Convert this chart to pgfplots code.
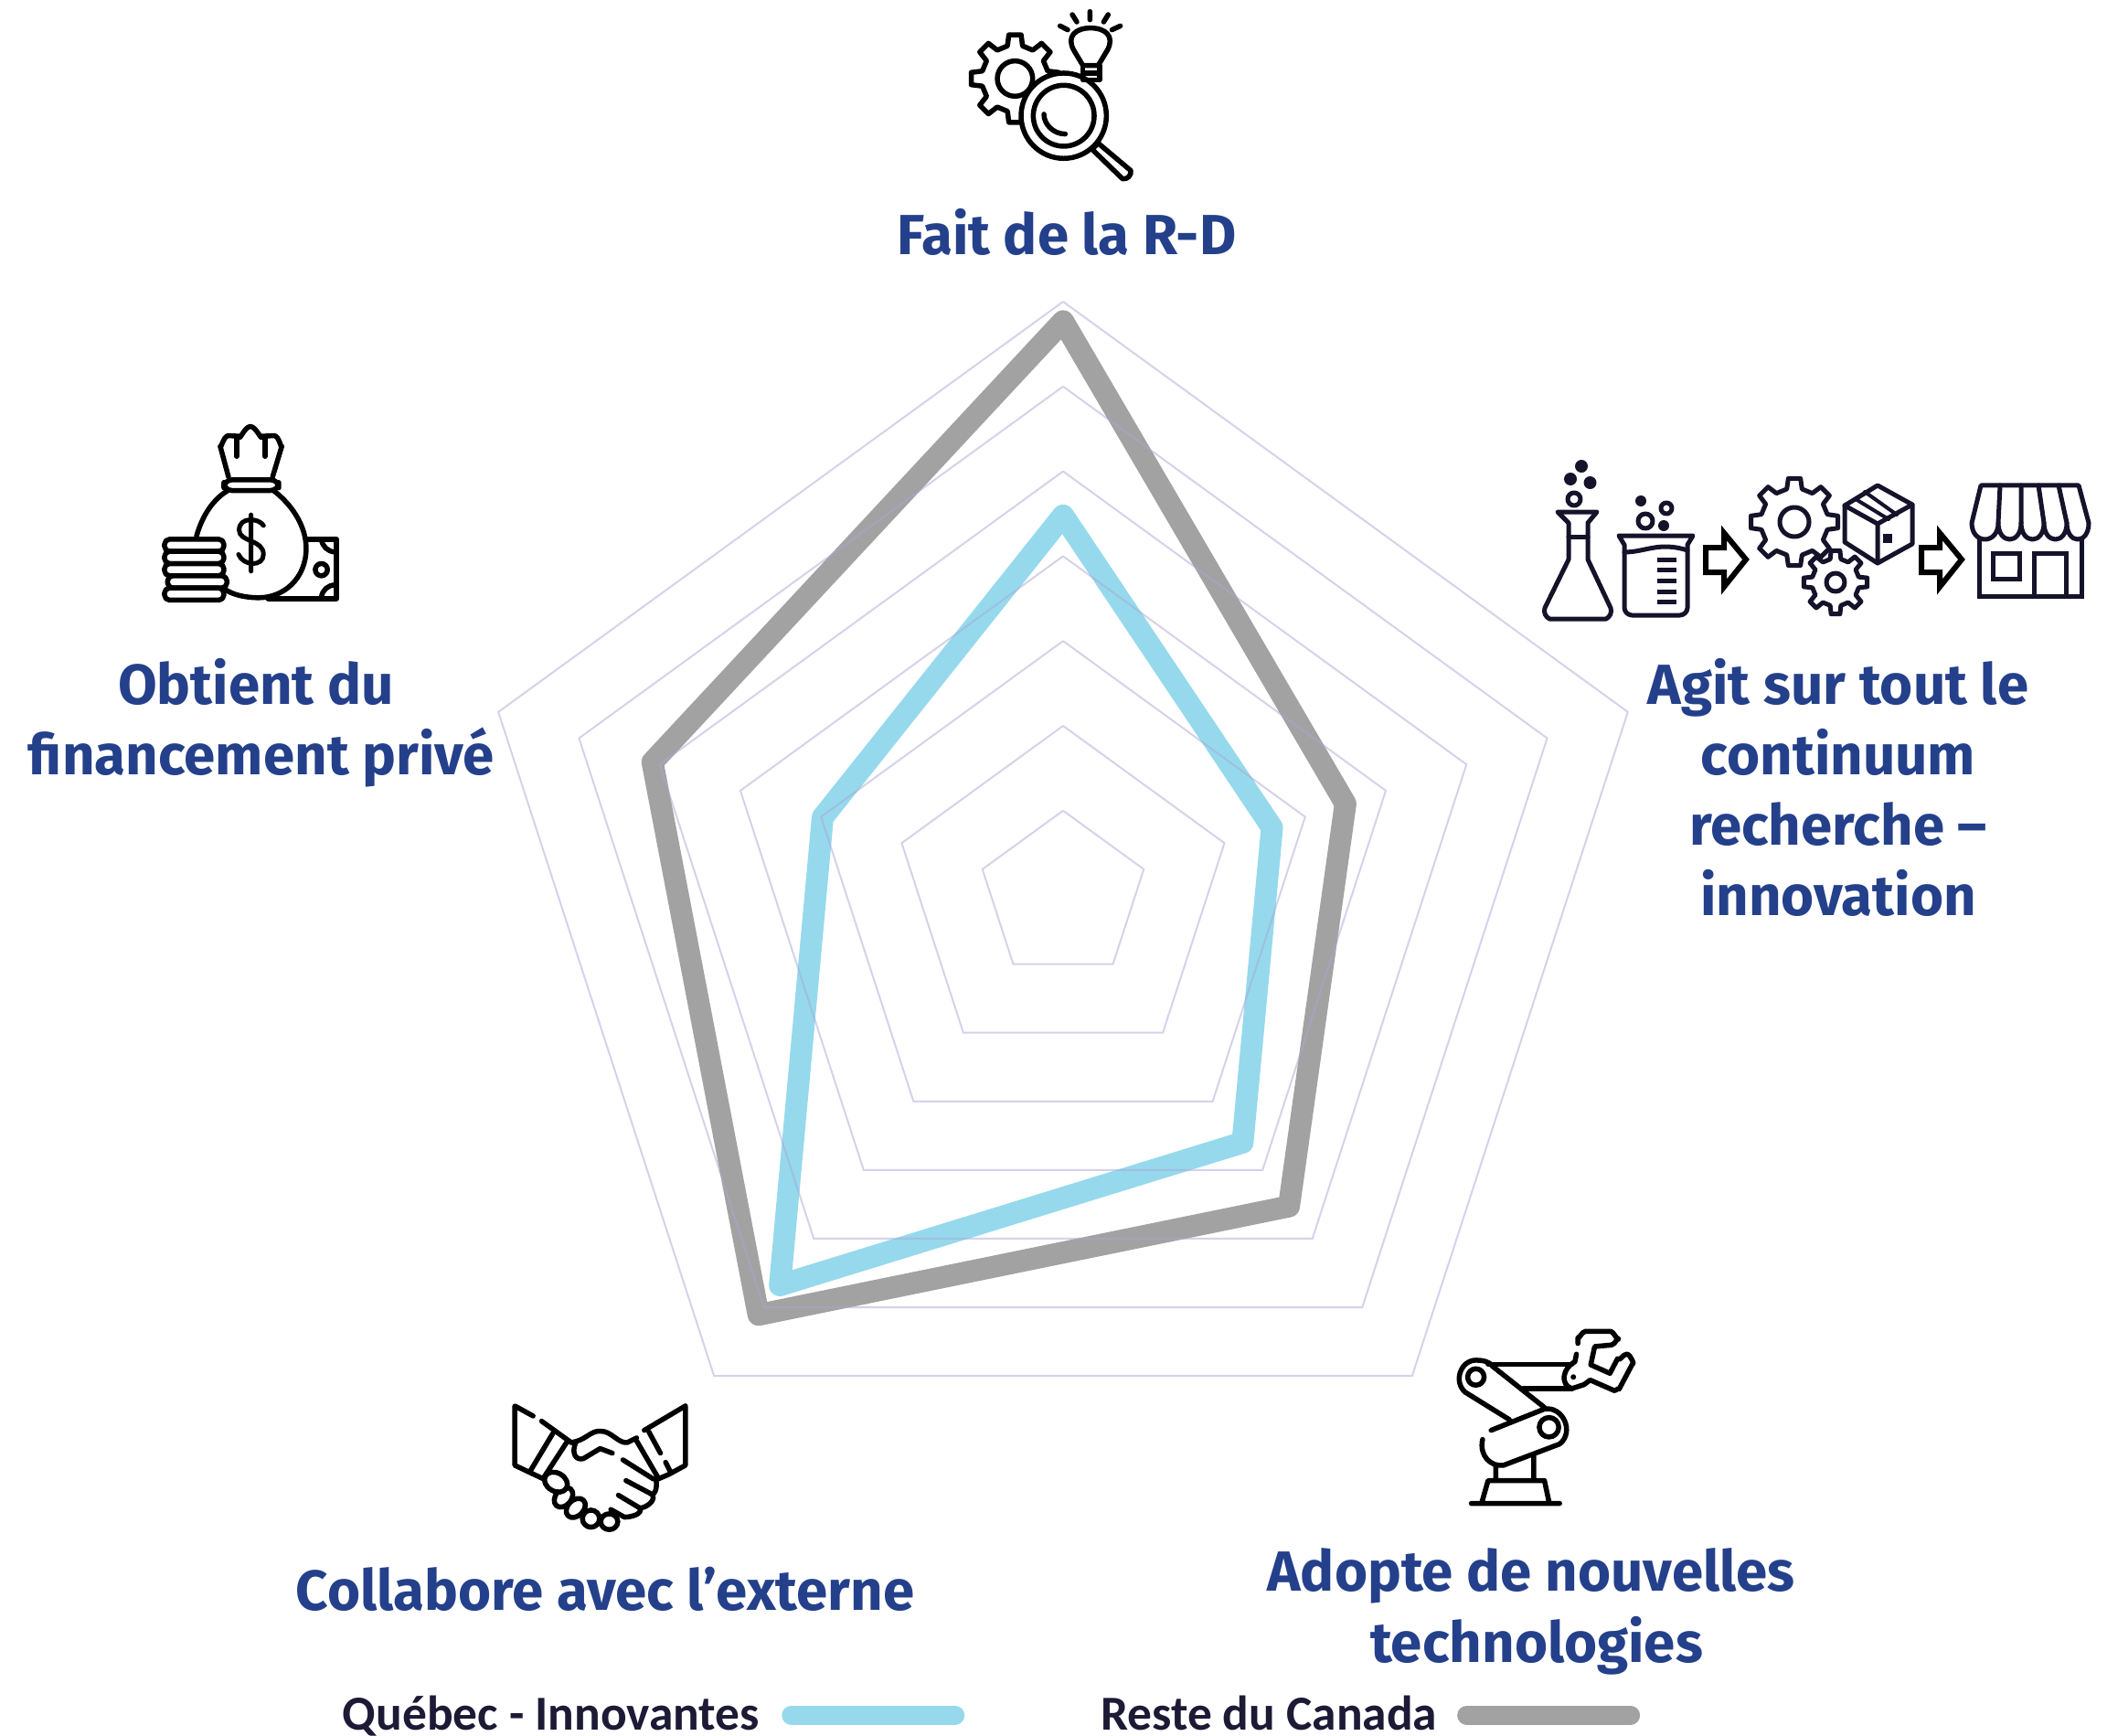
\documentclass[border=0pt]{standalone}
\usepackage{pgfplots}
\pgfplotsset{compat=1.18}
\usepgfplotslibrary{polar}
\usepackage{fontspec}
\setmainfont{Carlito}
\newfontfamily\labfont{Fira Sans}
\definecolor{labelblue}{HTML}{24408B}
\definecolor{legtext}{HTML}{1C1A35}
\definecolor{qcblue}{HTML}{96D9EC}
\definecolor{cangrey}{HTML}{A2A2A2}
\definecolor{ringcol}{HTML}{A9A6D6}
\definecolor{ink}{HTML}{14132A}
\newcommand{\ring}[1]{\addplot[ringcol,opacity=0.5,line width=0.2mm,forget plot] coordinates {(90,#1)(18,#1)(-54,#1)(-126,#1)(162,#1)(90,#1)};}
\newcommand{\lab}[3]{\node[anchor=base,text=labelblue,font=\labfont\bfseries\fontsize{17.6}{20}\selectfont] at (#1,#2) {#3};}
% cx cy router rinner hub, in the units of the scope
\newcommand{\gear}[5]{%
  \pgfmathsetmacro\wa{13}\pgfmathsetmacro\wb{8}%
  \draw[icon,fill=white] ({#1+#4*cos(-\wa)},{#2+#4*sin(-\wa)})
    \foreach \a in {0,45,...,315}{
      -- ({#1+#4*cos(\a-\wa)},{#2+#4*sin(\a-\wa)})
      -- ({#1+#3*cos(\a-\wb)},{#2+#3*sin(\a-\wb)})
      -- ({#1+#3*cos(\a+\wb)},{#2+#3*sin(\a+\wb)})
      -- ({#1+#4*cos(\a+\wa)},{#2+#4*sin(\a+\wa)})
    } -- cycle;
  \draw[icon] (#1,#2) circle[radius=#5];}
\tikzset{icon/.style={draw=black,line width=0.55mm,line cap=round,line join=round}}
\begin{document}
\begin{tikzpicture}
\path[use as bounding box] (0,0) rectangle (230.5mm,189.8mm);
\begin{axis}[
  width=230.5mm, height=189.8mm, scale only axis, hide axis, clip=false,
  xmin=-12.532, xmax=12.306, ymin=-9.897, ymax=10.556,
  legend columns=2, legend plot pos=right,
  legend style={at={(0.469,0.0115)},anchor=center,draw=none,fill=none,inner sep=0pt,
    font=\bfseries\fontsize{15.2}{17}\selectfont\color{legtext},
    /tikz/column 1/.style={column sep=1.74mm},
    /tikz/column 2/.style={column sep=14.2mm},
    /tikz/column 3/.style={column sep=1.5mm}},
  legend image code/.code={\draw[#1] (0mm,0mm) -- (17.9mm,0mm);},
]
% Reste du Canada
\addplot[cangrey,line width=2.4mm,line join=round,line cap=round,forget plot,data cs=polar]
  coordinates {(90,6.77)(18,3.50)(-54,4.53)(-126,6.11)(162,5.09)(90,6.77)};
% Quebec - Innovantes
\addplot[qcblue,line width=2.4mm,line join=round,line cap=round,forget plot,data cs=polar]
  coordinates {(90,4.48)(18,2.59)(-54,3.60)(-126,5.68)(162,2.98)(90,4.48)};
\pgfplotsset{every axis plot/.append style={data cs=polar}}
\ring{1}\ring{2}\ring{3}\ring{4}\ring{5}\ring{6}\ring{7}
\addlegendimage{qcblue,line width=2.1mm,line cap=round}
\addlegendentry{Québec - Innovantes}
\addlegendimage{cangrey,line width=2.1mm,line cap=round}
\addlegendentry{Reste du Canada}
\end{axis}
\begin{scope}[shift={(0,189.8mm)},x=0.1mm,y=-0.1mm]
\lab{1167}{279}{Fait de la R-D}
\lab{280}{770}{Obtient du}
\lab{286}{847}{financement privé}
\lab{2011}{770}{Agit sur tout le}
\lab{2011}{847}{continuum}
\lab{2011}{924}{recherche –}
\lab{2011}{1001}{innovation}
\lab{662}{1761}{Collabore avec l’externe}
\lab{1675}{1740}{Adopte de nouvelles}
\lab{1681}{1818}{technologies}
% procede: fiole, becher, engrenages, boite, boutique
\tikzset{icon/.append style={draw=ink,line width=0.5mm}}
\draw[icon] (1704,560) -- (1747,560) -- (1737,572) -- (1737,612) -- (1762,665) to[bend left=40] (1757,677) -- (1695,677) to[bend left=40] (1690,665) -- (1716,612) -- (1716,572) -- cycle;
\draw[icon] (1716,587) -- (1737,587);
\draw[icon] (1722,546) circle[radius=7];
\fill[ink] (1718,524) circle[radius=7] (1739.5,528) circle[radius=7] (1730,510) circle[radius=7];
\fill[ink] (1795,548) circle[radius=6] (1820,575) circle[radius=6];
\draw[icon] (1823,556) circle[radius=6];
\draw[icon] (1800,570) circle[radius=8];
\draw[icon] (1771,586) -- (1852,586) -- (1846,596) -- (1846,665) to[bend left=40] (1838,673) -- (1785,673) to[bend left=40] (1777,665) -- (1777,596) -- cycle;
\draw[icon] (1777,604) .. controls (1800,604) and (1815,592) .. (1846,602);
\foreach \y in {612,623,635,647,658} \draw[ink,line width=0.5mm] (1813,\y) -- (1834,\y);
\draw[draw=black,line width=0.6mm,line join=miter] (1866,599) -- (1886,599) -- (1886,583) -- (1910,612) -- (1886,642) -- (1886,626) -- (1866,626) -- cycle;
\draw[draw=black,line width=0.6mm,line join=miter] (2102,599) -- (2122,599) -- (2122,583) -- (2146,612) -- (2122,642) -- (2122,626) -- (2102,626) -- cycle;
\gear{1963}{571}{48}{37}{16}
\gear{2008}{637}{35}{26}{10}
\draw[icon,fill=white] (2054,531) -- (2092,552) -- (2092,595) -- (2054,616) -- (2018,593) -- (2018,553) -- cycle;
\draw[icon] (2018,553) -- (2054,573) -- (2092,552) (2054,573) -- (2054,616);
\draw[icon,line width=0.4mm] (2040,538) -- (2075,563) (2030,546) -- (2066,568);
\fill[ink] (2060,584) rectangle (2070,594);
\draw[icon] (2167,531) -- (2274,531) -- (2285,572)
  .. controls (2285,596) and (2261,596) .. (2261,572)
  .. controls (2261,596) and (2236,596) .. (2236,572)
  .. controls (2236,596) and (2211,596) .. (2211,572)
  .. controls (2211,596) and (2186,596) .. (2186,572)
  .. controls (2186,596) and (2157,596) .. (2157,572) -- cycle;
\draw[icon] (2188,531) -- (2186,572) (2211,531) -- (2211,572) (2230,531) -- (2236,572) (2252,531) -- (2261,572);
\draw[icon,line cap=butt,line join=miter] (2165,590) -- (2165,652) -- (2277,652) -- (2277,590);
\draw[icon,line join=miter] (2180,605) rectangle (2209,633);
\draw[icon,line join=miter] (2225,652) -- (2225,605) -- (2260,605) -- (2260,652);
\end{scope}
% recherche: engrenage, loupe, ampoule
\begin{scope}[shift={(0,189.8mm)},x=0.03333mm,y=-0.03333mm,shift={(3060,0)}]
\gear{272}{258}{145}{110}{58}
\draw[icon,fill=white] (432,380) circle[radius=140];
\draw[icon] (432,380) circle[radius=100];
\draw[icon] (367,375) .. controls (367,410) and (400,440) .. (437,440);
\draw[icon,fill=white] (525,490) -- (545,470) -- (652,560) to[bend left=60] (625,587) -- cycle;
\draw[icon] (495,215) -- (465,165) .. controls (440,120) and (470,92) .. (520,92) .. controls (570,92) and (600,120) .. (575,165) -- (545,215) -- cycle;
\draw[icon] (495,215) -- (495,262) -- (550,262) -- (550,215) (495,240) -- (550,240);
\draw[icon] (460,48) -- (475,72) (518,38) -- (518,65) (578,48) -- (563,72) (618,85) -- (590,98) (420,85) -- (445,98);
\end{scope}
% financement: sac, pieces, billet
\begin{scope}[shift={(0,189.8mm)},x=0.03333mm,y=-0.03333mm,shift={(480,1350)}]
\draw[icon] (270,215) -- (243,115) to[out=-90,in=180] (270,80) -- (305,82) to[out=-90,in=180] (342,50) to[out=0,in=-90] (380,82) -- (420,80) to[out=0,in=-90] (445,115) -- (415,215);
\draw[icon] (297,148) -- (297,85) (390,148) -- (390,85);
\draw[icon,rounded corners=2.5pt] (255,225) rectangle (435,260);
\draw[icon] (165,410) .. controls (185,340) and (220,290) .. (265,262);
\draw[icon] (420,262) .. controls (470,300) and (525,370) .. (525,450) .. controls (525,550) and (450,612) .. (370,612) .. controls (320,612) and (280,600) .. (260,585);
\draw[icon,line width=0.5mm] (385,375) .. controls (370,350) and (305,345) .. (305,390) .. controls (305,430) and (385,420) .. (385,470) .. controls (385,510) and (320,510) .. (303,470) (344,340) -- (344,525);
\draw[icon] (525,420) -- (625,420) -- (625,615) -- (400,615);
\draw[icon] (575,520) circle[radius=20];
\draw[icon] (575,420) to[bend right=40] (620,462) (575,610) to[bend left=40] (620,570);
\foreach \y/\dx in {420/0,460/0,500/0,540/10,580/0}
  \draw[icon,fill=white,rounded corners=1.6pt] ({60+\dx},\y) rectangle ({255+\dx},{\y+40});
\end{scope}
% collaboration: poignee de main
\begin{scope}[shift={(0,189.8mm)},x=0.03333mm,y=-0.03333mm,shift={(1620,4530)}]
\draw[icon] (130,118) -- (70,85) -- (70,280) -- (165,325);
\draw[icon] (158,135) -- (255,205);
\draw[icon] (120,300) -- (195,175) (165,320) -- (240,205);
\draw[icon] (630,85) -- (495,165) (630,85) -- (630,280) -- (575,310) -- (540,325);
\draw[icon] (470,200) -- (540,320) (510,170) -- (548,240) (565,270) -- (580,300);
\draw[icon] (255,205) .. controls (300,200) and (320,165) .. (350,168) .. controls (385,165) and (410,210) .. (440,205) -- (470,190);
\draw[icon] (270,205) .. controls (255,240) and (270,265) .. (295,258) -- (350,225) -- (390,240);
\draw[icon] (425,262) -- (525,325) to[out=45,in=0] (520,375) -- (435,330);
\draw[icon] (520,375) to[out=-45,in=0] (480,420) -- (410,378);
\draw[icon] (480,420) to[out=-60,in=0] (430,450) -- (385,425);
\draw[icon,fill=white] (380,465) circle[x radius=28,y radius=26];
\draw[icon,fill=white] (320,455) circle[x radius=28,y radius=28];
\draw[icon,fill=white,rotate around={45:(270,420)}] (270,420) ellipse[x radius=36,y radius=26];
\draw[icon,fill=white,rotate around={50:(230,385)}] (230,385) ellipse[x radius=36,y radius=26];
\draw[icon,fill=white,rotate around={-30:(205,335)}] (205,335) ellipse[x radius=40,y radius=30];
\end{scope}
% technologies: bras robot
\begin{scope}[shift={(0,189.8mm)},x=0.03333mm,y=-0.03333mm,shift={(4710,4320)}]
\draw[icon] (120,615) -- (410,615) (155,610) -- (175,540) -- (360,540) -- (375,610) (200,490) -- (200,540) (325,460) -- (325,540);
\draw[icon] (175,158) -- (450,158) (290,238) -- (450,238);
\draw[icon] (245,340) -- (100,250) .. controls (60,215) and (85,145) .. (135,145) .. controls (160,145) and (180,150) .. (190,165) -- (360,300);
\draw[icon] (135,200) circle[radius=27];
\draw[icon] (185,375) -- (360,305) .. controls (420,295) and (460,380) .. (410,420) -- (225,490) .. controls (185,495) and (145,460) .. (157,405);
\draw[icon] (375,365) circle[radius=32];
\draw[icon] (465,125) -- (460,150) .. controls (420,170) and (410,225) .. (450,238) -- (490,225);
\fill (455,200) circle[radius=9];
\draw[icon] (470,90) -- (470,70) to[out=-90,in=180] (495,50) -- (575,50) to[out=0,in=-90] (603,75) to[out=90,in=0] (580,95) -- (525,100) -- (512,160) -- (575,188) -- (600,140) to[out=-60,in=180] (630,125) to[out=0,in=-60] (650,155) -- (605,240) to[out=120,in=0] (590,245) -- (510,210) -- (490,225);
\end{scope}
\end{tikzpicture}
\end{document}
